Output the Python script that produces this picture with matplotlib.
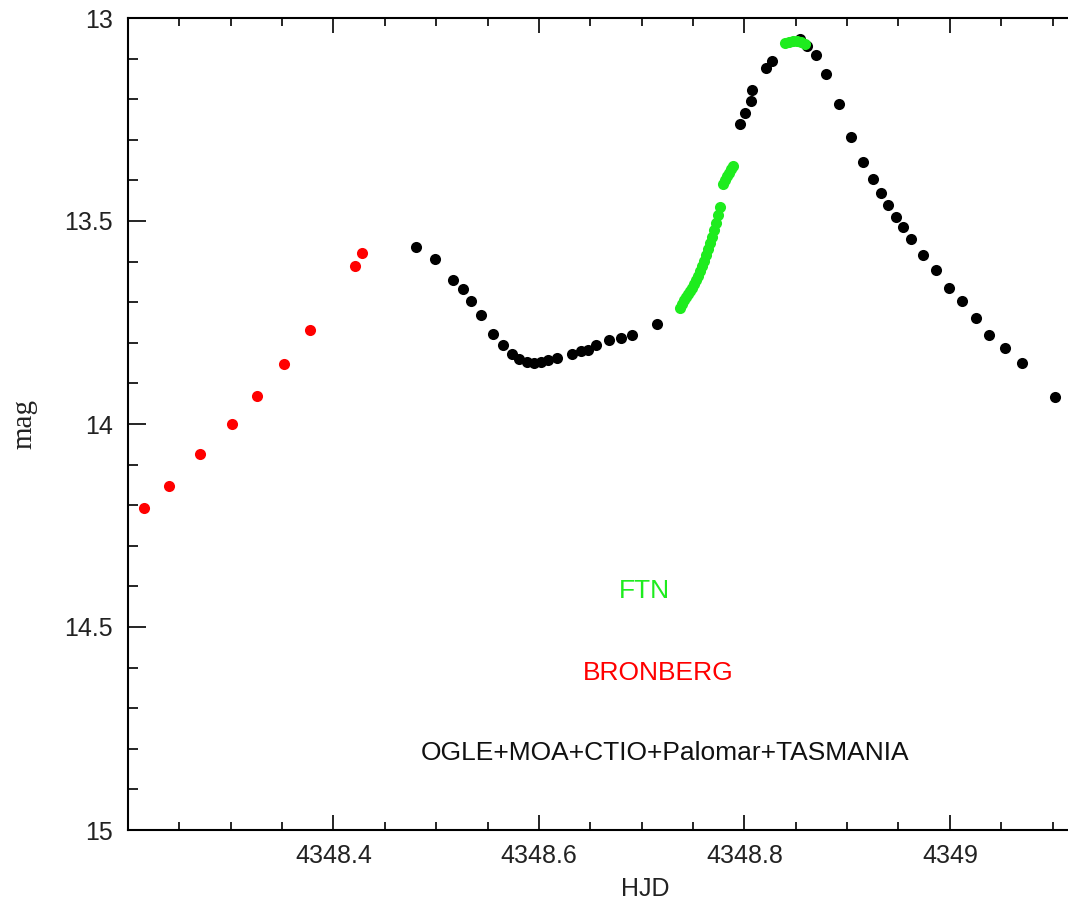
import numpy as np
import matplotlib
matplotlib.use("Agg")
import matplotlib.pyplot as plt
from matplotlib.ticker import MultipleLocator

# BRONBERG (red)
bron_hjd = [4348.216, 4348.240, 4348.270, 4348.3015, 4348.326, 4348.352,
            4348.377, 4348.421, 4348.428]
bron_mag = [14.208, 14.153, 14.075, 14.000, 13.930, 13.851,
            13.768, 13.611, 13.580]

# FTN (green)
ftn_hjd = [4348.7375, 4348.7394, 4348.7414, 4348.7433, 4348.7453, 4348.7472,
           4348.7492, 4348.7511, 4348.7530, 4348.7550, 4348.7569, 4348.7589,
           4348.7608, 4348.7628, 4348.7647, 4348.7667, 4348.7686, 4348.7705,
           4348.7725, 4348.7744, 4348.7764, 4348.7793, 4348.7812, 4348.7831,
           4348.7851, 4348.7870, 4348.7890,
           4348.8396, 4348.8435, 4348.8473, 4348.8512, 4348.8551, 4348.8590]
ftn_mag = [13.714, 13.704, 13.695, 13.687, 13.680, 13.672,
           13.665, 13.655, 13.645, 13.635, 13.623, 13.611,
           13.599, 13.584, 13.569, 13.554, 13.539, 13.522,
           13.505, 13.485, 13.466, 13.409, 13.399, 13.389,
           13.382, 13.372, 13.365,
           13.062, 13.059, 13.057, 13.057, 13.059, 13.064]

# OGLE+MOA+CTIO+Palomar+TASMANIA (black)
other_hjd = [4348.480, 4348.499, 4348.516, 4348.526, 4348.534, 4348.544,
             4348.555, 4348.565, 4348.574, 4348.581, 4348.588, 4348.595,
             4348.602, 4348.609, 4348.618, 4348.632, 4348.641, 4348.648,
             4348.656, 4348.668, 4348.680, 4348.691, 4348.715,
             4348.7958, 4348.8007, 4348.8065, 4348.8078, 4348.8211, 4348.8266,
             4348.8542, 4348.8607, 4348.8697, 4348.8794, 4348.8918, 4348.9035,
             4348.9151, 4348.9249, 4348.9329, 4348.9394, 4348.9478, 4348.9546,
             4348.9623, 4348.9735, 4348.9861, 4348.9995, 4349.0117, 4349.0250,
             4349.0380, 4349.0535, 4349.0698, 4349.1028]
other_mag = [13.563, 13.594, 13.645, 13.668, 13.697, 13.732,
             13.778, 13.805, 13.827, 13.840, 13.847, 13.849,
             13.848, 13.843, 13.838, 13.827, 13.820, 13.818,
             13.805, 13.793, 13.787, 13.781, 13.753,
             13.262, 13.235, 13.204, 13.178, 13.124, 13.106,
             13.052, 13.069, 13.091, 13.139, 13.213, 13.292,
             13.354, 13.397, 13.430, 13.461, 13.489, 13.515,
             13.544, 13.584, 13.620, 13.664, 13.696, 13.740,
             13.781, 13.814, 13.850, 13.933]

green = '#1eec1e'
red = '#ff0000'

fig = plt.figure(figsize=(10.68, 9.06), dpi=100)
ax = fig.add_axes([128 / 1068, 76 / 906, 940 / 1068, 812 / 906])

ax.plot(other_hjd, other_mag, 'o', color='black', markersize=8, markeredgewidth=0)
ax.plot(bron_hjd, bron_mag, 'o', color=red, markersize=8, markeredgewidth=0)
ax.plot(ftn_hjd, ftn_mag, 'o', color=green, markersize=8, markeredgewidth=0)

ax.set_xlim(4348.2, 4349.115)
ax.set_ylim(15, 13)

ax.xaxis.set_minor_locator(MultipleLocator(0.05))
ax.yaxis.set_minor_locator(MultipleLocator(0.1))
ax.set_xticks([4348.4, 4348.6, 4348.8, 4349.0])
ax.set_xticklabels(['4348.4', '4348.6', '4348.8', '4349'])
ax.set_yticks([13, 13.5, 14, 14.5, 15])
ax.set_yticklabels(['13', '13.5', '14', '14.5', '15'])

for s in ['left', 'bottom', 'top']:
    ax.spines[s].set_linewidth(1.5)
ax.spines['right'].set_visible(False)

ax.tick_params(axis='x', which='major', direction='in', length=11, width=1.2,
               top=True, labelsize=18, pad=10, labelcolor='#222222')
ax.tick_params(axis='x', which='minor', direction='in', length=6, width=1.2, top=True)
ax.tick_params(axis='y', which='major', direction='in', length=13, width=1.2,
               right=False, labelsize=18, pad=11, labelcolor='#222222')
ax.tick_params(axis='y', which='minor', direction='in', length=7, width=1.2, right=False)
for lab in ax.get_xticklabels() + ax.get_yticklabels():
    lab.set_family('Liberation Sans')

ax.set_xlabel('HJD', fontsize=18, family='Liberation Sans', color='#222222')
ax.xaxis.set_label_coords(0.55, -0.058)
ax.set_ylabel('mag', fontsize=21, family='Liberation Serif', color='#222222')
ax.yaxis.set_label_coords(-0.096, 0.5)

ax.text(4348.703, 14.411, 'FTN', color=green, fontsize=19,
        family='Liberation Sans', ha='center', va='center')
ax.text(4348.716, 14.613, 'BRONBERG', color=red, fontsize=19,
        family='Liberation Sans', ha='center', va='center')
ax.text(4348.723, 14.81, 'OGLE+MOA+CTIO+Palomar+TASMANIA', color='#111111',
        fontsize=19, family='Liberation Sans', ha='center', va='center')

fig.savefig('out.png', dpi=100)
